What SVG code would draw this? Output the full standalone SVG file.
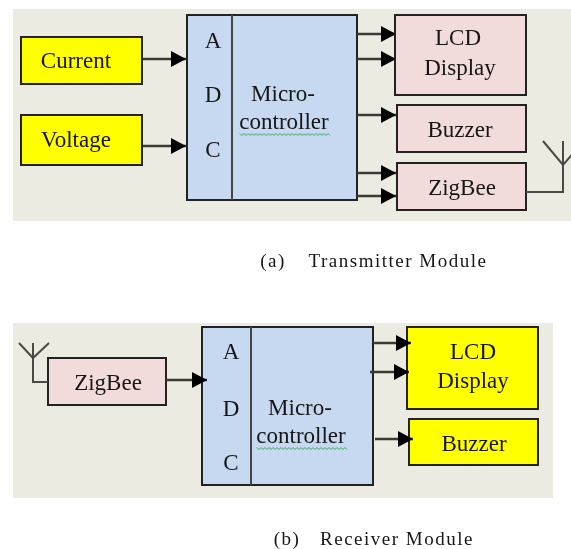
<svg xmlns="http://www.w3.org/2000/svg" width="571" height="549" viewBox="0 0 571 549">
<style>
.bg{fill:#ecebe1}
.box{stroke:#222;stroke-width:2}
.y{fill:#ffff00}.p{fill:#f2dcdb}.b{fill:#c6d9f1}
.div{stroke:#444;stroke-width:2;fill:none}
.c{stroke:#3a3a36;stroke-width:2.600;fill:none}
.ant{stroke:#4a4a44;stroke-width:2;fill:none}
text{font-family:"Liberation Serif","Times New Roman",serif;font-size:23px;fill:#161616;text-anchor:middle}
.cap{font-size:19px;letter-spacing:1.500px}
.sq{stroke:#3aa655;stroke-width:1;fill:none}
</style>
<defs>
<marker id="ah" markerUnits="userSpaceOnUse" markerWidth="15" markerHeight="16" refX="15" refY="8" orient="auto"><path d="M0 0L15 8L0 16Z" fill="#000"/></marker>
<filter id="soft" x="0" y="0" width="100%" height="100%"><feGaussianBlur stdDeviation="0.450"/></filter>
</defs>
<g filter="url(#soft)">
<rect class="bg" x="13" y="9" width="558" height="212"/>
<rect class="bg" x="13" y="323" width="540" height="175"/>
<g id="current"><rect class="box y" x="21" y="37" width="121" height="47"/><text x="76" y="68">Current</text></g>
<g id="voltage"><rect class="box y" x="21" y="115" width="121" height="50"/><text x="76" y="147">Voltage</text></g>
<g id="mcu-a"><rect class="box b" x="187" y="15" width="170" height="185"/><path class="div" d="M232 15V200"/>
<text x="213" y="48">A</text><text x="213" y="102">D</text><text x="213" y="157">C</text>
<text x="283" y="101">Micro-</text><text x="284" y="129">controller</text>
<path class="sq" d="M240 133.500l2 2 2-2 2 2 2-2 2 2 2-2 2 2 2-2 2 2 2-2 2 2 2-2 2 2 2-2 2 2 2-2 2 2 2-2 2 2 2-2 2 2 2-2 2 2 2-2 2 2 2-2 2 2 2-2 2 2 2-2 2 2 2-2 2 2 2-2 2 2 2-2 2 2 2-2 2 2 2-2 2 2 2-2 2 2 2-2 2 2"/></g>
<g id="lcd-a"><rect class="box p" x="395" y="15" width="131" height="80"/><text x="458" y="45">LCD</text><text x="460" y="75">Display</text></g>
<g id="buzzer-a"><rect class="box p" x="397" y="105" width="129" height="47"/><text x="460" y="137">Buzzer</text></g>
<g id="zigbee-a"><rect class="box p" x="397" y="163" width="129" height="47"/><text x="462" y="195">ZigBee</text></g>
<text class="cap" x="273" y="267">(a)</text><text class="cap" x="398" y="267">Transmitter Module</text>
<g id="zigbee-b"><rect class="box p" x="48" y="358" width="118" height="47"/><text x="108" y="390">ZigBee</text></g>
<g id="mcu-b"><rect class="box b" x="202" y="327" width="171" height="158"/><path class="div" d="M251 327V485"/>
<text x="231" y="359">A</text><text x="231" y="416">D</text><text x="231" y="470">C</text>
<text x="300" y="415">Micro-</text><text x="301" y="443">controller</text>
<path class="sq" d="M257 447.500l2 2 2-2 2 2 2-2 2 2 2-2 2 2 2-2 2 2 2-2 2 2 2-2 2 2 2-2 2 2 2-2 2 2 2-2 2 2 2-2 2 2 2-2 2 2 2-2 2 2 2-2 2 2 2-2 2 2 2-2 2 2 2-2 2 2 2-2 2 2 2-2 2 2 2-2 2 2 2-2 2 2 2-2 2 2 2-2 2 2"/></g>
<g id="lcd-b"><rect class="box y" x="407" y="327" width="131" height="82"/><text x="473" y="359">LCD</text><text x="473" y="388">Display</text></g>
<g id="buzzer-b"><rect class="box y" x="409" y="419" width="129" height="46"/><text x="474" y="451">Buzzer</text></g>
<text class="cap" x="287" y="545">(b)</text><text class="cap" x="397" y="545">Receiver Module</text>
<g id="connectors">
<path class="c" marker-end="url(#ah)" d="M143 59H186"/>
<path class="c" marker-end="url(#ah)" d="M143 146H186"/>
<path class="c" marker-end="url(#ah)" d="M357 34H396"/>
<path class="c" marker-end="url(#ah)" d="M357 59H396"/>
<path class="c" marker-end="url(#ah)" d="M357 115H396"/>
<path class="c" marker-end="url(#ah)" d="M357 173H396"/>
<path class="c" marker-end="url(#ah)" d="M357 196H396"/>
<path class="ant" d="M526 192H563V141M543 141L563 165L584 141"/>
<path class="c" marker-end="url(#ah)" d="M166 380H207"/>
<path class="c" marker-end="url(#ah)" d="M373 343H411"/>
<path class="c" marker-end="url(#ah)" d="M370 372H409"/>
<path class="c" marker-end="url(#ah)" d="M375 439H413"/>
<path class="ant" d="M48 382H33V343M19 343L33 358L49 343"/>
</g>
</g>
</svg>
